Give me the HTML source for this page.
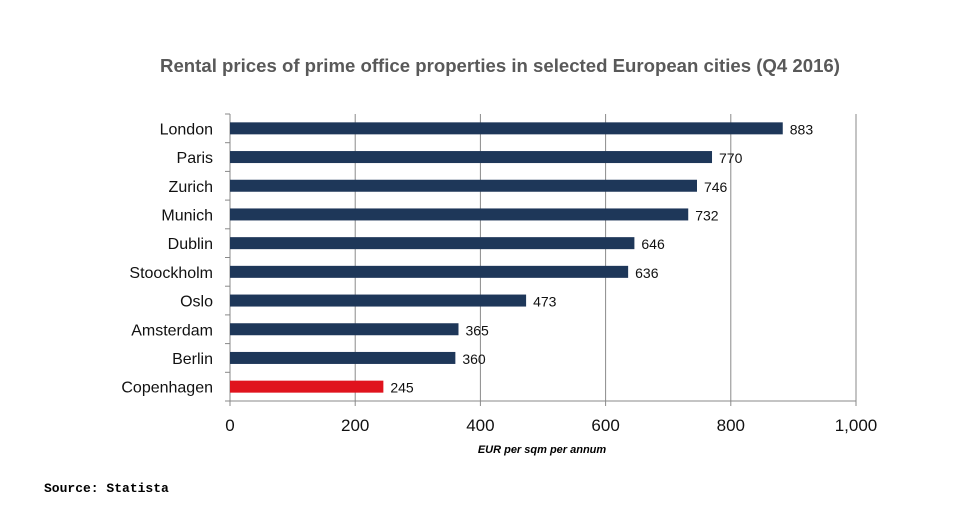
<!DOCTYPE html>
<html><head><meta charset="utf-8"><style>
body{margin:0;background:#fff;width:965px;height:524px;overflow:hidden}
svg{display:block;font-family:"Liberation Sans",sans-serif}
</style></head><body>
<svg id="chart" width="965" height="524">
<text x="500" y="72" text-anchor="middle" font-size="18.6" font-weight="bold" fill="#595959">Rental prices of prime office properties in selected European cities (Q4 2016)</text>
<g id="grid"></g><g id="bars"></g><g id="labels"></g>
<text x="542" y="453" text-anchor="middle" font-size="11" font-style="italic" font-weight="bold" fill="#000">EUR per sqm per annum</text>
<text x="44" y="492" font-size="13" font-weight="bold" font-family="Liberation Mono, monospace" fill="#000">Source: Statista</text>
</svg>
<script>
const categories=["London","Paris","Zurich","Munich","Dublin","Stoockholm","Oslo","Amsterdam","Berlin","Copenhagen"];
const values=[883,770,746,732,646,636,473,365,360,245];
const ticks=[0,200,400,600,800,1000];
const tickLabels=["0","200","400","600","800","1,000"];
const NS="http://www.w3.org/2000/svg";
const x0=230,x1=856,yTop=114,yBot=401;
const band=(yBot-yTop)/categories.length;
const xs=v=>x0+(v-ticks[0])/(ticks[ticks.length-1]-ticks[0])*(x1-x0);
function mk(t,a,p){const e=document.createElementNS(NS,t);for(const k in a)e.setAttribute(k,a[k]);p.appendChild(e);return e;}
const grid=document.getElementById('grid'),bars=document.getElementById('bars'),labels=document.getElementById('labels');
ticks.forEach((t,i)=>{
 const l=mk('line',{x1:xs(t),x2:xs(t),y1:yTop,y2:yBot+5,stroke:i==0?'#888':'#8a8a8a','stroke-width':1},grid);
 
 
 const tx=mk('text',{x:xs(t),y:431,'text-anchor':'middle','font-size':17,fill:'#111'},labels);
 tx.textContent=tickLabels[i];
 
 
});
const ax=mk('line',{x1:x0,x2:x1,y1:yBot,y2:yBot,stroke:'#888'},grid);


for(let i=0;i<=categories.length;i++){const tk=mk('line',{x1:x0-5,x2:x0,y1:yTop+i*band,y2:yTop+i*band,stroke:'#888'},grid);
 
 }
categories.forEach((c,i)=>{
 const cy=yTop+band*(i+0.5);
 const r=mk('rect',{x:x0,y:cy-6,width:xs(values[i])-x0,height:12,fill:c==='Copenhagen'?'#e0131d':'#1e3759'},bars);
 
 
 const lt=mk('text',{x:213,y:cy+6,'text-anchor':'end','font-size':16,fill:'#111'},labels);
 lt.textContent=c;
 
 
 const vt=mk('text',{x:xs(values[i])+7,y:cy+6,'font-size':14,fill:'#111'},labels);
 vt.textContent=values[i];
 
 
});
</script>
</body></html>
